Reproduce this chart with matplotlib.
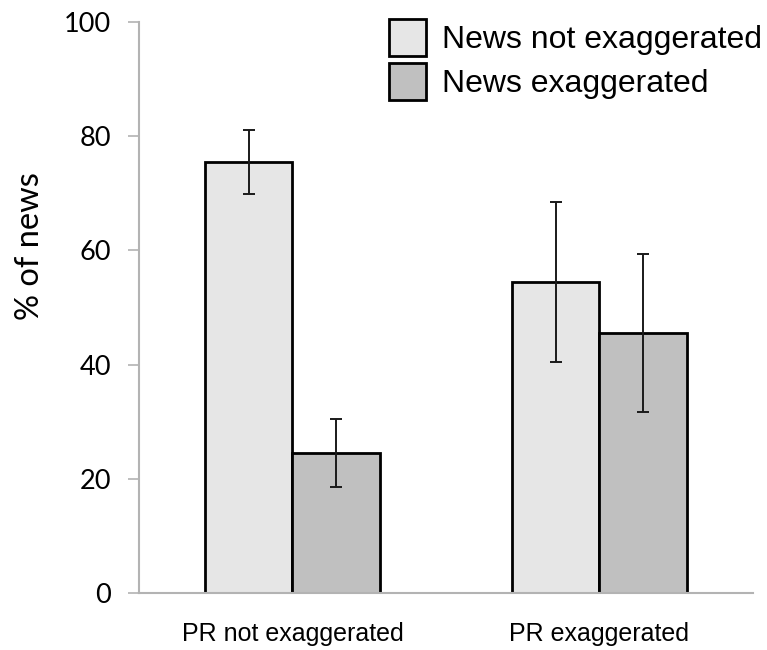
import numpy as np
import matplotlib.pyplot as plt

# Anteil der Nachrichten (%) je nach Pressemitteilung
groups = ["PR not exaggerated", "PR exaggerated"]
series = ["News not exaggerated", "News exaggerated"]
not_exag = [75.5, 54.5]
exag = [24.5, 45.5]
not_exag_err = [5.6, 14.0]
exag_err = [5.9, 13.8]
colors = ["#e6e6e6", "#c0c0c0"]

fig = plt.figure(figsize=(7.67, 6.5), dpi=100)
ax = fig.add_axes([0.1812, 0.0877, 0.8005, 0.8785])

x = np.arange(len(groups))
w = 0.286
err_kw = dict(ecolor="#1a1a1a", elinewidth=1.4, capsize=4.6, capthick=1.4)
ax.bar(x - w / 2, not_exag, w, yerr=not_exag_err, color=colors[0],
       edgecolor="black", linewidth=2.0, label=series[0], error_kw=err_kw)
ax.bar(x + w / 2, exag, w, yerr=exag_err, color=colors[1],
       edgecolor="black", linewidth=2.0, label=series[1], error_kw=err_kw)

ax.set_xlim(-0.5, 1.5)
ax.set_ylim(0, 100)
ax.set_yticks([0, 20, 40, 60, 80, 100])
ax.set_xticks(x)
ax.set_xticklabels(groups, fontsize=18, family="Liberation Sans")
for t in ax.get_yticklabels():
    t.set_fontfamily("Lato")
    t.set_fontsize(19.5)

for s in ["top", "right"]:
    ax.spines[s].set_visible(False)
for s in ["left", "bottom"]:
    ax.spines[s].set_color("#b3b3b3")
    ax.spines[s].set_linewidth(1.5)
ax.tick_params(axis="y", direction="out", length=8, width=1.2,
               color="#b3b3b3", pad=12)
ax.tick_params(axis="x", length=0, pad=21)

ax.set_ylabel("% of news", fontsize=23.5, family="Lato")
ax.yaxis.set_label_coords(-0.153, 0.608)

leg = ax.legend(loc="upper right", bbox_to_anchor=(1.035, 1.028), frameon=False,
                prop={"family": "Liberation Sans", "size": 23},
                handlelength=1.16, handleheight=1.4, handletextpad=0.5,
                labelspacing=0.22, borderaxespad=0)

fig.savefig("out.png", dpi=100)
